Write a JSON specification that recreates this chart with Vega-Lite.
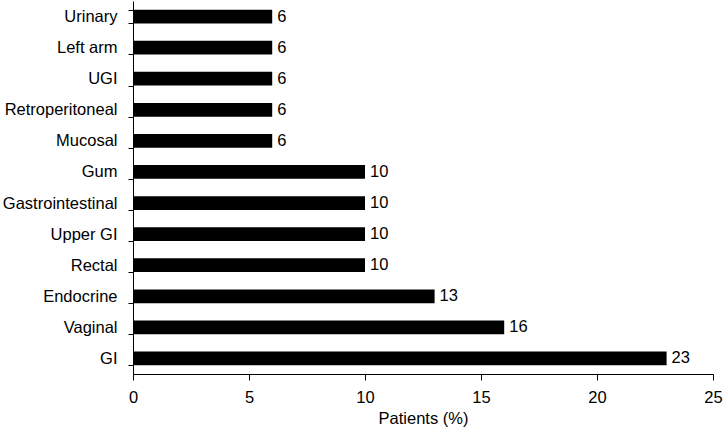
{
  "$schema": "https://vega.github.io/schema/vega-lite/v6.json",
  "autosize": "none",
  "width": 580,
  "height": 373,
  "padding": {"left": 133, "top": 1, "right": 10, "bottom": 54},
  "background": "white",
  "config": {
    "view": {"stroke": null},
    "font": "Liberation Sans",
    "axis": {"domainColor": "black", "tickColor": "black", "labelColor": "black", "titleColor": "black", "labelFont": "Liberation Sans", "titleFont": "Liberation Sans", "grid": false}
  },
  "data": {
    "values": [
      {"site": "Urinary", "pct": 6},
      {"site": "Left arm", "pct": 6},
      {"site": "UGI", "pct": 6},
      {"site": "Retroperitoneal", "pct": 6},
      {"site": "Mucosal", "pct": 6},
      {"site": "Gum", "pct": 10},
      {"site": "Gastrointestinal", "pct": 10},
      {"site": "Upper GI", "pct": 10},
      {"site": "Rectal", "pct": 10},
      {"site": "Endocrine", "pct": 13},
      {"site": "Vaginal", "pct": 16},
      {"site": "GI", "pct": 23}
    ]
  },
  "encoding": {
    "y": {
      "field": "site", "type": "nominal", "sort": null,
      "scale": {"paddingInner": 0.56, "paddingOuter": 0.28},
      "axis": {"title": null, "tickBand": "extent", "labelFontSize": 16.5, "labelPadding": 11, "tickSize": 5, "domainWidth": 1, "tickWidth": 1}
    },
    "x": {
      "field": "pct", "type": "quantitative",
      "scale": {"domain": [0, 25], "nice": false},
      "axis": {"title": "Patients (%)", "values": [0, 5, 10, 15, 20, 25], "labelFlush": false, "labelOverlap": false, "labelFontSize": 16.5, "titleFontSize": 16.5, "titleFontWeight": "normal", "tickSize": 6, "labelPadding": 9, "titlePadding": 5}
    }
  },
  "layer": [
    {"mark": {"type": "bar", "color": "black"}},
    {"mark": {"type": "text", "align": "left", "dx": 5, "fontSize": 16.5, "color": "black"}, "encoding": {"text": {"field": "pct", "type": "quantitative"}}}
  ]
}
